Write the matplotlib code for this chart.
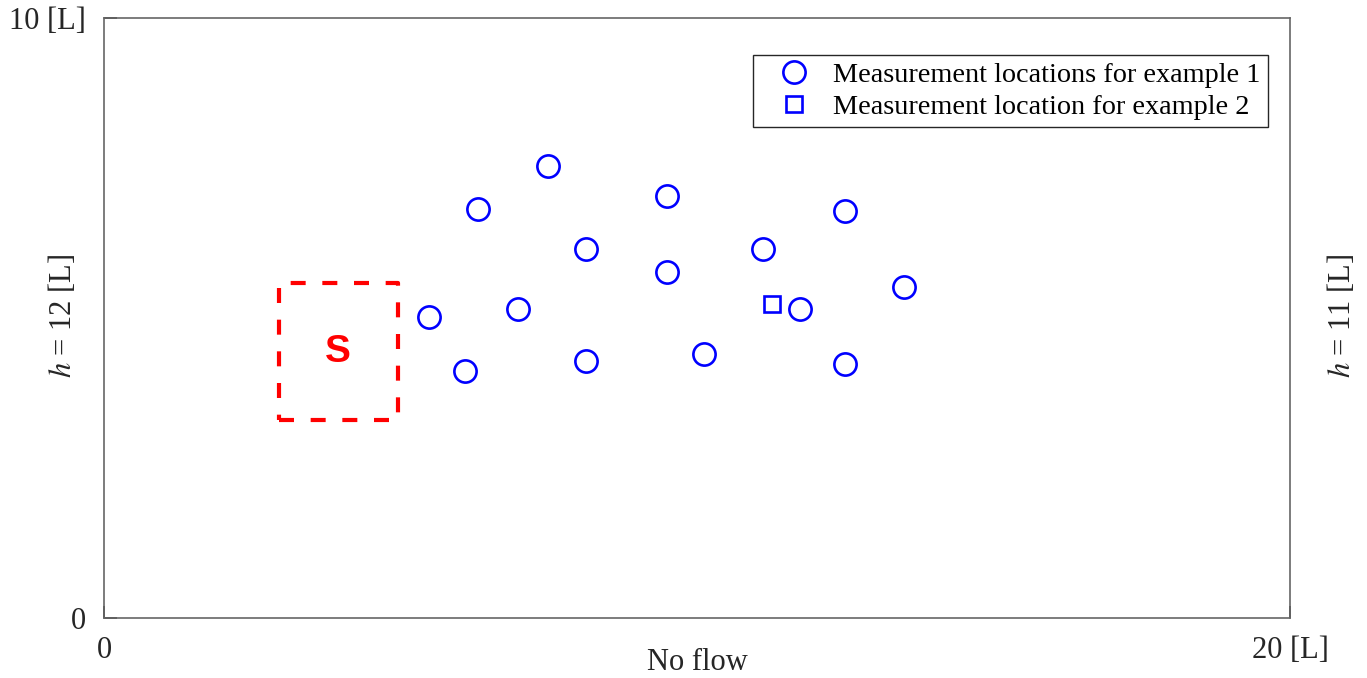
import matplotlib

matplotlib.use("Agg")
import matplotlib.pyplot as plt
from matplotlib.lines import Line2D
from matplotlib.patches import Rectangle

# measurement points for example 1 (domain units)
ex1_x = [5.48, 6.09, 6.31, 6.98, 7.49, 8.13, 8.13, 9.49, 9.49, 10.12, 11.11, 11.74, 12.50, 12.50, 13.49]
ex1_y = [5.02, 4.12, 6.82, 5.15, 7.53, 6.15, 4.28, 7.03, 5.77, 4.40, 6.15, 5.15, 6.78, 4.23, 5.52]

# single measurement point for example 2
ex2_x = [11.26]
ex2_y = [5.23]

# source zone outline: x0, y0, width, height
source_box = [2.95, 3.30, 2.0, 2.28]
source_label = "S"

x_ticks = [0, 20]
x_ticklabels = ["0", "20 [L]"]
y_ticks = [0, 10]
y_ticklabels = ["0", "10 [L]"]

plt.rcParams["font.family"] = ["Liberation Serif", "DejaVu Serif"]
plt.rcParams["mathtext.fontset"] = "stix"

fig = plt.figure(figsize=(13.67, 6.78), dpi=100)
ax = fig.add_axes([0.0761, 0.0885, 0.8676, 0.885])

ax.plot(ex1_x, ex1_y, "o", ms=16, mfc="none", mec="#0000ff", mew=1.9, ls="none")
ax.plot(ex2_x, ex2_y, "s", ms=11, mfc="none", mec="#0000ff", mew=1.9, ls="none")

x0, y0, w, h = source_box
ax.add_patch(Rectangle((x0, y0), w, h, fill=False, ec="#ff0000", lw=3.0,
                       ls=(0, (3.6, 4.0)), joinstyle="round", capstyle="butt"))
ax.text(x0 + w / 2, y0 + h / 2, source_label, color="#ff0000", fontsize=28,
        fontweight="bold", family=["Liberation Sans", "DejaVu Sans"], ha="center", va="center")

ax.set_xlim(0, 20)
ax.set_ylim(0, 10)
ax.set_xticks(x_ticks)
ax.set_xticklabels(x_ticklabels)
ax.set_yticks(y_ticks)
ax.set_yticklabels(y_ticklabels)
ax.tick_params(direction="in", length=9, width=1.2, color="#262626", labelsize=22,
               labelcolor="#262626", pad=13)
for spine in ax.spines.values():
    spine.set_color("#666666")
    spine.set_linewidth(1.2)

# boundary conditions along the sides of the domain
fig.text(0.510, 0.023, "No flow", fontsize=22, color="#262626", ha="center", va="center")
fig.text(0.0455, 0.535, r"$h$ = 12 [L]", fontsize=22, color="#262626",
         rotation=90, ha="center", va="center")
fig.text(0.981, 0.535, r"$h$ = 11 [L]", fontsize=22, color="#262626",
         rotation=90, ha="center", va="center")

handles = [
    Line2D([], [], marker="o", ms=16, mfc="none", mec="#0000ff", mew=1.9, ls="none"),
    Line2D([], [], marker="s", ms=11, mfc="none", mec="#0000ff", mew=1.9, ls="none"),
]
leg = ax.legend(handles, ["Measurement locations for example 1", "Measurement location for example 2"],
                loc="upper right", bbox_to_anchor=(0.981, 0.938), borderaxespad=0,
                fontsize=20.3, fancybox=False, framealpha=1, edgecolor="#262626",
                handletextpad=0.2, labelspacing=0.22, borderpad=0.25, handlelength=2.4)
leg.get_frame().set_linewidth(1.0)

fig.savefig("out.png", dpi=100)
